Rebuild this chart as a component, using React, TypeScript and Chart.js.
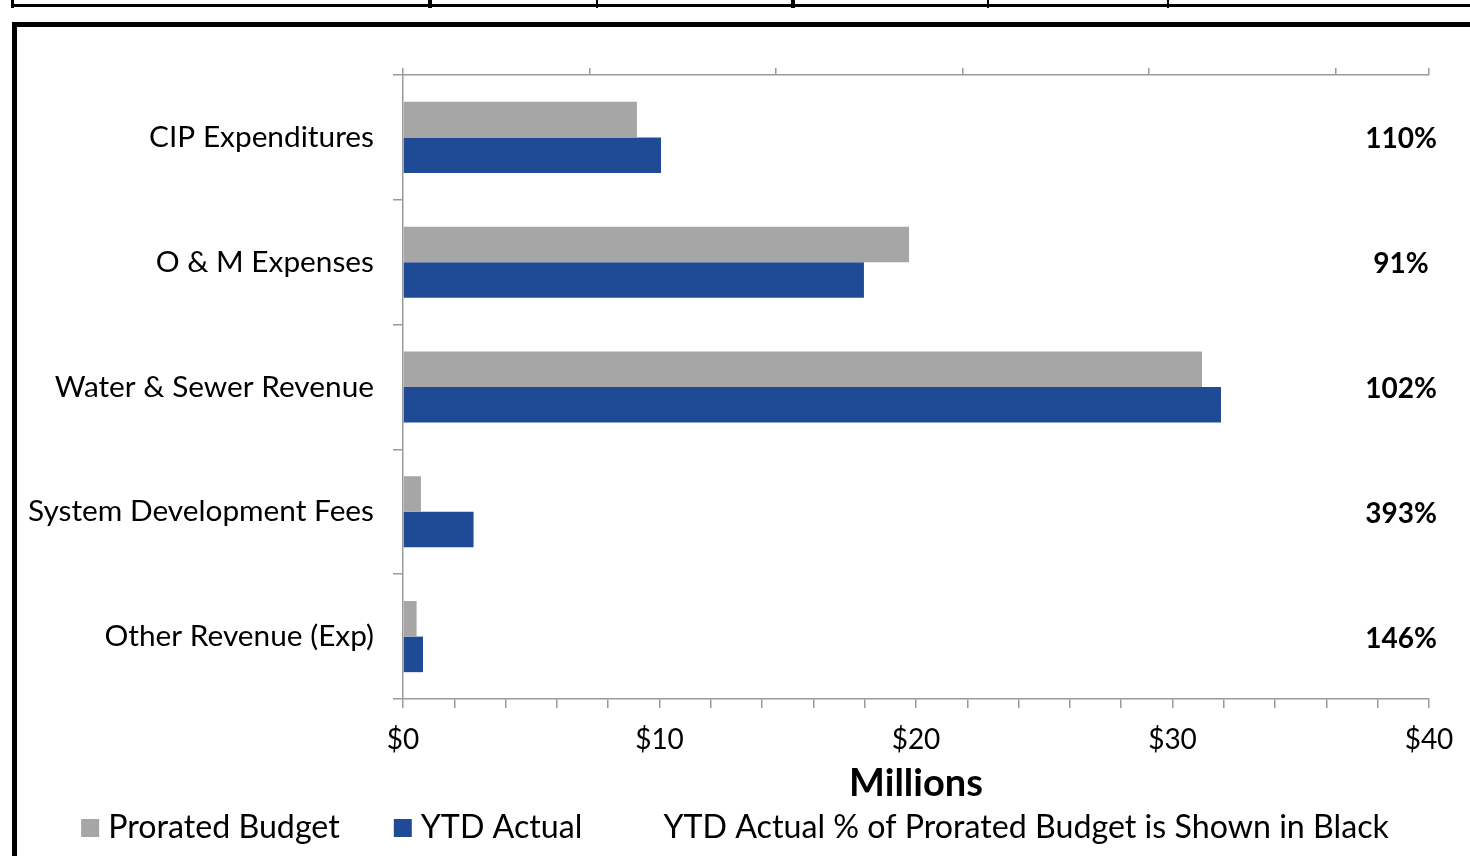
import React, { useEffect, useRef } from "react";
import { Chart, registerables } from "chart.js";
Chart.register(...registerables);

const categories = [
  "CIP Expenditures",
  "O & M Expenses",
  "Water & Sewer Revenue",
  "System Development Fees",
  "Other Revenue (Exp)",
];
const proratedBudget = [9.12, 19.73, 31.15, 0.7, 0.53];
const ytdActual = [10.06, 17.97, 31.89, 2.75, 0.78];
const pctLabels = ["110%", "91%", "102%", "393%", "146%"];
const seriesNames = ["Prorated Budget", "YTD Actual"];
const noteText = "YTD Actual % of Prorated Budget is Shown in Black";
const axisTitle = "Millions";
const xMin = 0;
const xMax = 40;
const xMinorStep = 2;
const xMajorStep = 10;
const topAxisMax = 5.5;
const pctLabelPos = 5.35;

const GRAY = "#A6A6A6";
const BLUE = "#1F4A96";
const AXIS = "#9A9A9A";
const FONT = "Lato, 'Open Sans', sans-serif";

const pctPlugin = {
  id: "pctLabels",
  afterDatasetsDraw(chart: any) {
    const { ctx } = chart;
    const ys = chart.scales.y;
    const xs = chart.scales.x2;
    ctx.save();
    ctx.font = `bold 28px ${FONT}`;
    ctx.fillStyle = "#000";
    ctx.textAlign = "center";
    ctx.textBaseline = "middle";
    pctLabels.forEach((t, i) => {
      ctx.fillText(t, xs.getPixelForValue(pctLabelPos), ys.getPixelForValue(i) + 2);
    });
    ctx.restore();
  },
};

const legendPlugin = {
  id: "customLegend",
  afterDraw(chart: any) {
    const { ctx } = chart;
    ctx.save();
    ctx.font = `32.2px ${FONT}`;
    ctx.textBaseline = "middle";
    ctx.textAlign = "left";
    const items = [
      { label: chart.data.datasets[0].label, color: chart.data.datasets[0].backgroundColor },
      { label: chart.data.datasets[1].label, color: chart.data.datasets[1].backgroundColor },
      { label: noteText, color: null },
    ];
    const box = 18;
    const gap = 9;
    const spacing = 54;
    const widths = items.map((it) => box + gap + ctx.measureText(it.label).width);
    const total = widths.reduce((a, b) => a + b, 0) + spacing * (items.length - 1);
    let x = chart.width / 2 - total / 2;
    const y = 828;
    items.forEach((it, i) => {
      if (it.color) {
        ctx.fillStyle = it.color;
        ctx.fillRect(x, y - box / 2, box, box);
      }
      ctx.fillStyle = "#000";
      ctx.fillText(it.label, x + box + gap, y);
      x += widths[i] + spacing;
    });
    ctx.restore();
  },
};

export default function App() {
  const ref = useRef<HTMLCanvasElement | null>(null);
  useEffect(() => {
    if (!ref.current) return;
    const chart = new Chart(ref.current, {
      type: "bar",
      data: {
        labels: categories,
        datasets: [
          {
            label: seriesNames[0],
            data: proratedBudget,
            backgroundColor: GRAY,
            xAxisID: "x",
            categoryPercentage: 0.57,
            barPercentage: 1.0,
          },
          {
            label: seriesNames[1],
            data: ytdActual,
            backgroundColor: BLUE,
            xAxisID: "x",
            categoryPercentage: 0.57,
            barPercentage: 1.0,
          },
        ],
      },
      options: {
        indexAxis: "y",
        responsive: false,
        animation: false,
        devicePixelRatio: 1,
        layout: { padding: { left: 0, top: 0, right: 41, bottom: 0 } },
        plugins: { legend: { display: false }, tooltip: { enabled: false } },
        scales: {
          y: {
            type: "category",
            offset: true,
            grid: {
              offset: true,
              drawOnChartArea: false,
              drawTicks: true,
              tickLength: 10,
              color: AXIS,
              lineWidth: 1.5,
            },
            border: { display: true, color: AXIS, width: 1.5 },
            ticks: {
              color: "#000",
              font: { family: FONT, size: 29.8 },
              padding: 19,
            },
            afterFit(scale: any) {
              scale.width = 403;
            },
          },
          x: {
            type: "linear",
            position: "bottom",
            min: xMin,
            max: xMax,
            grid: {
              drawOnChartArea: false,
              drawTicks: true,
              tickLength: 9,
              color: AXIS,
              lineWidth: 1.5,
            },
            border: { display: true, color: AXIS, width: 1.5 },
            ticks: {
              stepSize: xMinorStep,
              autoSkip: false,
              maxRotation: 0,
              color: "#000",
              font: { family: FONT, size: 28 },
              padding: 15,
              callback: (v: any) => (Number(v) % xMajorStep === 0 ? `$${v}` : ""),
            },
            title: {
              display: true,
              text: axisTitle,
              color: "#000",
              font: { family: FONT, size: 38, weight: "bold", lineHeight: 1.2 },
              padding: { top: 0, bottom: 49 },
            },
            afterFit(scale: any) {
              scale.height = 856 - 699;
            },
          },
          x2: {
            type: "linear",
            position: "top",
            min: 0,
            max: topAxisMax,
            grid: {
              drawOnChartArea: false,
              drawTicks: true,
              tickLength: 7,
              color: AXIS,
              lineWidth: 1.5,
            },
            border: { display: true, color: AXIS, width: 1.5 },
            ticks: { stepSize: 1, display: false },
            afterFit(scale: any) {
              scale.height = 75;
            },
          },
        },
      },
      plugins: [pctPlugin, legendPlugin],
    } as any);
    return () => chart.destroy();
  }, []);

  const vline = (x: number, w: number) => (
    <div
      key={x}
      style={{ position: "absolute", left: x, top: 0, width: w, height: 8, background: "#000" }}
    />
  );

  return (
    <div
      style={{
        position: "absolute",
        left: 0,
        top: 0,
        width: 1470,
        height: 856,
        overflow: "hidden",
        background: "#fff",
      }}
    >
      <div style={{ position: "absolute", left: 11, top: 4, width: 1470, height: 3, background: "#000" }} />
      {vline(11, 3)}
      {vline(428, 4)}
      {vline(596, 2)}
      {vline(791, 4)}
      {vline(987, 2)}
      {vline(1167, 2)}
      <div
        style={{
          position: "absolute",
          left: 12,
          top: 22,
          width: 1500,
          height: 900,
          borderLeft: "5px solid #000",
          borderTop: "5px solid #000",
          boxSizing: "border-box",
        }}
      />
      <canvas
        ref={ref}
        width={1470}
        height={856}
        style={{ position: "absolute", left: 0, top: 0, width: 1470, height: 856 }}
      />
    </div>
  );
}
